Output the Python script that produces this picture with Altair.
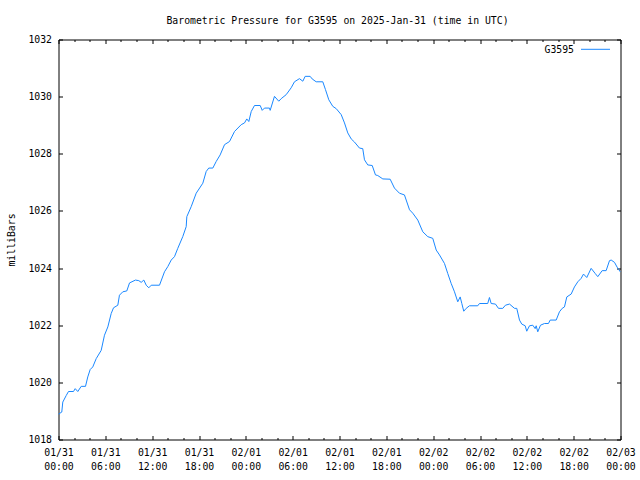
import altair as alt
import pandas as pd

# ---------------- data ----------------
hours = [
    0.00, 0.42, 0.55, 0.99, 1.28, 1.92, 2.14, 2.47, 2.91, 3.46,
    3.75, 4.06, 4.39, 4.83, 5.47, 5.89, 6.32, 6.75, 7.05, 7.60,
    7.81, 8.24, 8.75, 9.10, 9.86, 10.29, 10.59, 10.93, 11.24, 11.57,
    11.88, 12.94, 13.58, 14.00, 14.44, 14.86, 15.28, 15.92, 16.36, 16.44,
    17.00, 17.64, 18.49, 18.92, 19.25, 19.77, 20.20, 20.71, 21.27, 21.91,
    22.55, 23.41, 23.83, 24.12, 24.38, 24.69, 25.11, 25.84, 26.10, 26.39,
    27.03, 27.12, 27.67, 28.22, 28.53, 29.17, 29.81, 30.23, 30.87, 31.30,
    31.60, 32.24, 32.50, 33.01, 33.86, 34.20, 34.63, 35.14, 35.58, 36.22,
    36.64, 37.06, 37.50, 37.92, 38.56, 38.98, 39.20, 39.62, 40.19, 40.61,
    40.90, 41.55, 42.49, 43.04, 43.68, 44.32, 44.97, 45.39, 46.03, 46.67,
    47.31, 47.95, 48.39, 48.81, 49.45, 49.87, 50.31, 50.73, 51.15, 51.46,
    51.67, 51.92, 52.23, 52.65, 53.71, 53.93, 54.99, 55.21, 55.43, 55.98,
    56.37, 56.92, 57.26, 57.78, 58.42, 58.71, 59.06, 59.35, 59.79, 59.99,
    60.34, 60.76, 61.07, 61.20, 61.40, 61.75, 62.26, 62.77, 62.99, 63.76,
    64.18, 64.53, 64.82, 65.12, 65.68, 66.10, 66.53, 66.96, 67.26, 67.68,
    68.24, 68.76, 69.09, 69.65, 70.16, 70.59, 70.81, 71.23, 71.57, 71.78,
    71.96,
]
pressure = [
    1018.89, 1018.96, 1019.31, 1019.54, 1019.68, 1019.68, 1019.78, 1019.68, 1019.86, 1019.86,
    1020.19, 1020.45, 1020.54, 1020.83, 1021.12, 1021.65, 1021.94, 1022.41, 1022.61, 1022.70,
    1023.05, 1023.17, 1023.20, 1023.48, 1023.58, 1023.56, 1023.50, 1023.58, 1023.40, 1023.31,
    1023.40, 1023.40, 1023.87, 1024.05, 1024.28, 1024.40, 1024.69, 1025.10, 1025.45, 1025.80,
    1026.15, 1026.62, 1026.97, 1027.38, 1027.50, 1027.50, 1027.73, 1027.96, 1028.32, 1028.43,
    1028.78, 1029.02, 1029.08, 1029.22, 1029.13, 1029.48, 1029.69, 1029.69, 1029.52, 1029.60,
    1029.60, 1029.52, 1030.01, 1029.84, 1029.93, 1030.07, 1030.31, 1030.52, 1030.63, 1030.54,
    1030.71, 1030.71, 1030.62, 1030.52, 1030.52, 1030.25, 1029.89, 1029.66, 1029.58, 1029.37,
    1029.08, 1028.73, 1028.52, 1028.41, 1028.20, 1028.18, 1027.79, 1027.61, 1027.59, 1027.26,
    1027.24, 1027.12, 1027.11, 1026.80, 1026.62, 1026.56, 1026.04, 1025.92, 1025.68, 1025.27,
    1025.10, 1025.04, 1024.63, 1024.46, 1024.16, 1023.81, 1023.46, 1023.17, 1022.82, 1022.99,
    1022.76, 1022.49, 1022.59, 1022.68, 1022.68, 1022.76, 1022.76, 1022.97, 1022.76, 1022.74,
    1022.59, 1022.59, 1022.70, 1022.74, 1022.59, 1022.59, 1022.18, 1022.04, 1021.98, 1021.79,
    1021.98, 1022.00, 1021.88, 1021.98, 1021.77, 1022.00, 1022.06, 1022.06, 1022.18, 1022.18,
    1022.47, 1022.59, 1022.64, 1022.99, 1023.09, 1023.34, 1023.52, 1023.64, 1023.79, 1023.67,
    1023.99, 1023.81, 1023.70, 1023.91, 1023.91, 1024.26, 1024.28, 1024.20, 1024.03, 1023.95,
    1023.87,
]

major_hours = [0, 6, 12, 18, 24, 30, 36, 42, 48, 54, 60, 66, 72]
minor_hours = [2, 4, 8, 10, 14, 16, 20, 22, 26, 28, 32, 34, 38, 40,
               44, 46, 50, 52, 56, 58, 62, 64, 68, 70]
y_ticks = [1018, 1020, 1022, 1024, 1026, 1028, 1030, 1032]

TITLE = "Barometric Pressure for G3595 on 2025-Jan-31 (time in UTC)"
Y_TITLE = "milliBars"
SERIES = "G3595"

# ---------------- build table ----------------
base = pd.Timestamp("2025-01-31T00:00:00", tz="UTC")


def ms(h):
    return int((base + pd.Timedelta(hours=h)).timestamp() * 1000)


df = pd.DataFrame({
    "time": [base + pd.Timedelta(hours=h) for h in hours],
    "pressure": pressure,
})

# ---------------- style ----------------
W, H = 562, 400
FONT = "DejaVu Sans Mono"
FS = 9.8
COLOR = "#1a88ff"

xscale = alt.Scale(type="utc", domain=[ms(0), ms(72)], nice=False)
yscale = alt.Scale(domain=[1018, 1032], nice=False, zero=False)


def tick_axis(orient, offset, values, size):
    return alt.Axis(orient=orient, offset=offset, values=values, tickSize=size,
                    ticks=True, labels=False, domain=False, grid=False, title=None,
                    tickColor="black", tickWidth=1)


x_label_axis = alt.Axis(
    orient="bottom", values=[ms(h) for h in major_hours], ticks=False, tickSize=0,
    domain=False, grid=False, title=None,
    labelExpr="[utcFormat(datum.value, '%m/%d'), utcFormat(datum.value, '%H:%M')]",
    labelFont=FONT, labelFontSize=FS, labelColor="black", labelPadding=8,
    labelLineHeight=14, labelFlush=False, labelOverlap=False,
    labelBaseline="top", labelAlign="center",
)
y_label_axis = alt.Axis(
    orient="left", values=y_ticks, ticks=False, tickSize=0, domain=False, grid=False,
    format="d", labelFont=FONT, labelFontSize=FS, labelColor="black", labelPadding=7,
    labelFlush=False, title=Y_TITLE, titleFont=FONT, titleFontSize=FS,
    titleFontWeight="normal", titleColor="black", titleAngle=270, titleX=-44,
    titleY=H / 2, titleAlign="center", titleBaseline="alphabetic",
)


def line_layer(xaxis, yaxis, visible=False):
    return alt.Chart(df).mark_line(
        color=COLOR, strokeWidth=1, opacity=1 if visible else 0
    ).encode(
        x=alt.X("time:T", scale=xscale, axis=xaxis),
        y=alt.Y("pressure:Q", scale=yscale, axis=yaxis),
    )


majors = [ms(h) for h in major_hours]
minors = [ms(h) for h in minor_hours]

layers = [
    line_layer(x_label_axis, y_label_axis, visible=True),
    # inward ticks on bottom edge + left edge
    line_layer(tick_axis("top", -H, majors, 4), tick_axis("right", -W, y_ticks, 4)),
    line_layer(tick_axis("top", -H, minors, 2), tick_axis("left", -W, y_ticks, 4)),
    # inward ticks on top edge
    line_layer(tick_axis("bottom", -H, majors, 4), None),
    line_layer(tick_axis("bottom", -H, minors, 2), None),
]

legend_df = pd.DataFrame({"label": [SERIES]})
legend_text = alt.Chart(legend_df).mark_text(
    align="right", baseline="alphabetic", font=FONT, fontSize=FS, color="black"
).encode(x=alt.value(515.5), y=alt.value(13.5), text="label:N")
legend_line = alt.Chart(legend_df).mark_rule(color=COLOR, strokeWidth=1).encode(
    x=alt.value(522.5), x2=alt.value(551.5), y=alt.value(9.8)
)

chart = alt.layer(*layers, legend_text, legend_line).resolve_axis(
    x="independent", y="independent"
).properties(
    width=W, height=H,
    title=alt.TitleParams(TITLE, font=FONT, fontSize=FS, fontWeight="normal",
                          color="black", anchor="middle", baseline="alphabetic",
                          offset=1, dx=-2),
    autosize=alt.AutoSizeParams(type="none"),
    padding={"left": 58.5, "top": 39.5, "right": 19.5, "bottom": 40.5},
    background="white",
).configure_view(stroke="black", strokeWidth=1)

chart.save("out.html", embed_options={"renderer": "svg", "actions": False})
